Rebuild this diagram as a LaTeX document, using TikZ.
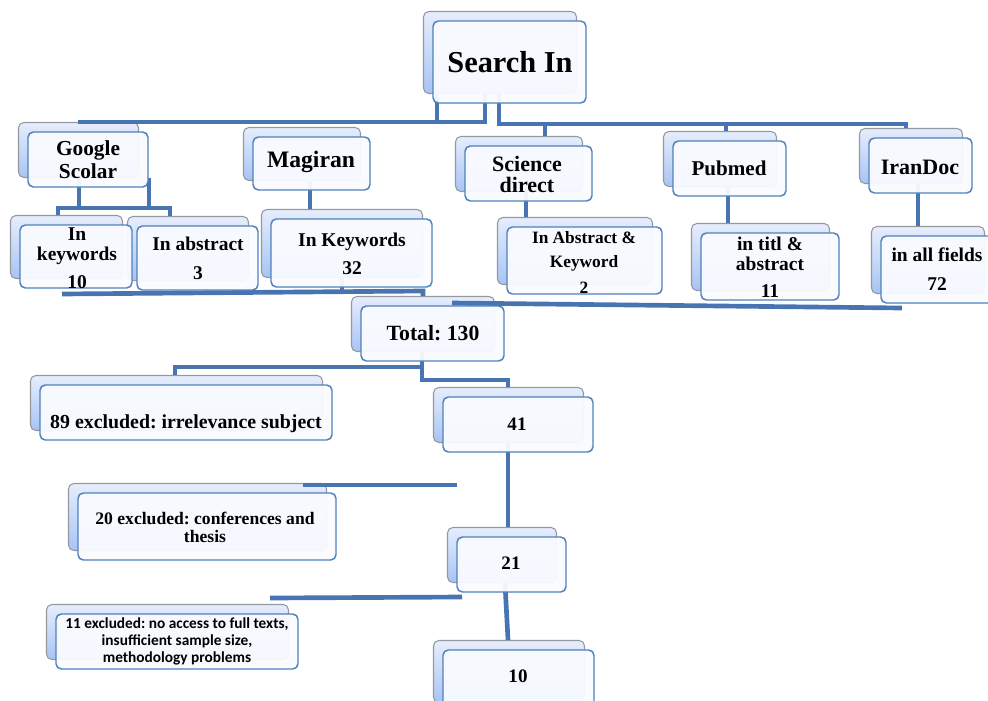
\documentclass[tikz,border=0pt]{standalone}
\usepackage{fontspec}
\setmainfont{Liberation Serif}
\newfontfamily\calib{Carlito}
\frenchspacing
\definecolor{linec}{RGB}{72,117,178}
\definecolor{frontc}{RGB}{79,129,189}
\definecolor{frontf}{RGB}{249,251,255}
\definecolor{backc}{RGB}{150,152,160}
\definecolor{backtop}{RGB}{230,237,252}
\definecolor{backbot}{RGB}{168,196,244}
\newcommand\fs[2]{\fontsize{#1pt}{#2pt}\selectfont\bfseries\frenchspacing}
\tikzset{
  conn/.style={draw=linec, line width=3.5pt},
  fbox/.style={rectangle, draw=frontc, line width=1.1pt, fill=frontf, fill opacity=0.95, rounded corners=4pt, inner sep=0pt},
  bbox/.style={rectangle, draw=backc, line width=0.8pt, top color=backtop, bottom color=backbot, rounded corners=4pt, inner sep=0pt},
  txt/.style={inner sep=0pt, align=center, text=black},
}
\newcommand\mkback[5]{\node[bbox, minimum width={(#4-#2)*0.75pt}, minimum height={(#5-#3)*0.75pt}] (#1) at ({(#2+#4)/2-9.5},{(#3+#5)/2-9.5}) {};}
\newcommand\mkfront[5]{\node[fbox, minimum width={(#4-#2)*0.75pt}, minimum height={(#5-#3)*0.75pt}] (#1) at ({(#2+#4)/2},{(#3+#5)/2}) {};}
\begin{document}
\begin{tikzpicture}[x=0.75pt, y=-0.75pt]
\useasboundingbox (0,0) rectangle (988,700);
% ---------- back boxes
\mkback{search-b}{433}{21}{586}{103}
\mkback{google-b}{28}{132}{148}{187}
\mkback{magiran-b}{253}{137}{370}{190}
\mkback{science-b}{465}{146}{592}{201}
\mkback{pubmed-b}{673}{141}{786}{196}
\mkback{irandoc-b}{869}{138}{972}{193}
\mkback{kw-b}{20}{225}{132}{288}
\mkback{abs-b}{137}{226}{258}{290}
\mkback{kw2-b}{271}{219}{432}{287}
\mkback{sd2-b}{507}{227}{662}{294}
\mkback{pm2-b}{701}{233}{839}{300}
\mkback{ir2-b}{881}{236}{994}{303}
\mkback{total-b}{361}{306}{504}{361}
\mkback{ex89-b}{40}{385}{332}{440}
\mkback{n41-b}{443}{397}{593}{452}
\mkback{ex20-b}{78}{493}{336}{560}
\mkback{n21-b}{457}{537}{566}{592}
\mkback{ex11-b}{56}{614}{298}{669}
\mkback{n10-b}{443}{650}{594}{712}
% ---------- connectors
\draw[conn] (search-b.south -| 485,0) -- (485,122) -- (78,122);
\draw[conn] (search-b.south -| 437,0) -- (437,122);
\draw[conn] (search-b.south -| 499,0) -- (499,124) -- (906,124) -- (irandoc-b.north -| 906,0);
\draw[conn] (545,124) -- (science-b.north -| 545,0);
\draw[conn] (726,124) -- (pubmed-b.north -| 726,0);
\draw[conn] (google-b.south -| 79,0) -- (79,208);
\draw[conn] (google-b.south -| 149,0) -- (149,208);
\draw[conn] (kw-b.north -| 58,0) -- (58,208) -- (170,208) -- (abs-b.north -| 170,0);
\draw[conn] (magiran-b.south -| 310,0) -- (kw2-b.north -| 310,0);
\draw[conn] (science-b.south -| 526,0) -- (sd2-b.north -| 526,0);
\draw[conn] (pubmed-b.south -| 728,0) -- (pm2-b.north -| 728,0);
\draw[conn] (irandoc-b.south -| 918,0) -- (ir2-b.north -| 918,0);
\draw[conn] (62,294) -- (423,291) -- (total-b.north -| 423,0);
\draw[conn] (kw2-b.south -| 342,0) -- (342,291);
\draw[conn] (452,303) -- (902,308);
\draw[conn] (ex89-b.north -| 175,0) -- (175,367) -- (422,367);
\draw[conn] (total-b.south -| 422,0) -- (422,380) -- (508,380) -- (n41-b.north -| 508,0);
\draw[conn] (n41-b.south -| 508,0) -- (n21-b.north -| 508,0);
\coordinate (e20a) at (303,485);
\coordinate (e20b) at (457,485);
\draw[conn] (e20a) -- (e20b);
\draw[conn] (n21-b.south -| 505,0) -- (n10-b.north -| 508,0);
\coordinate (e11a) at (270,598);
\coordinate (e11b) at (462,597);
\draw[conn] (e11a) -- (e11b);
% ---------- front boxes
\mkfront{search}{433}{21}{586}{103}
\mkfront{google}{28}{132}{148}{187}
\mkfront{magiran}{253}{137}{370}{190}
\mkfront{science}{465}{146}{592}{201}
\mkfront{pubmed}{673}{141}{786}{196}
\mkfront{irandoc}{869}{138}{972}{193}
\mkfront{kw}{20}{225}{132}{288}
\mkfront{abs}{137}{226}{258}{290}
\mkfront{kw2}{271}{219}{432}{287}
\mkfront{sd2}{507}{227}{662}{294}
\mkfront{pm2}{701}{233}{839}{300}
\mkfront{ir2}{881}{236}{994}{303}
\mkfront{total}{361}{306}{504}{361}
\mkfront{ex89}{40}{385}{332}{440}
\mkfront{n41}{443}{397}{593}{452}
\mkfront{ex20}{78}{493}{336}{560}
\mkfront{n21}{457}{537}{566}{592}
\mkfront{ex11}{56}{614}{298}{669}
\mkfront{n10}{443}{650}{594}{712}
% ---------- texts
\node[txt, font=\fs{22.8}{24}] (t-search) at (510,62) {Search In};
\node[txt, font=\fs{16}{17.25}] (t-google) at (88,160) {Google\\Scolar};
\node[txt, font=\fs{17.7}{19}] (t-magiran) at (311,162) {Magiran};
\node[txt, font=\fs{16.5}{15.75}] (t-science) at (527,174) {Science\\direct};
\node[txt, font=\fs{15.8}{17}] (t-pubmed) at (729,168) {Pubmed};
\node[txt, font=\fs{16.5}{17}] (t-irandoc) at (920,167) {IranDoc};
\node[txt, font=\fs{14.6}{15}] (t-kw) at (77,258) {In\\keywords\\[6pt]10};
\node[txt, font=\fs{14.6}{21.75}] (t-abs) at (198,258) {In abstract\\3};
\node[txt, font=\fs{14.6}{21}] (t-kw2) at (352,254) {In Keywords\\32};
\node[txt, font=\fs{13}{18}] (t-sd2) at (584,262) {In Abstract \&\\Keyword\\[1.5pt]2};
\node[txt, font=\fs{14.6}{15}] (t-pm2) at (770,267) {in titl \&\\abstract\\[5pt]11};
\node[txt, font=\fs{14.6}{21.75}] (t-ir2) at (937,269) {in all fields\\72};
\node[txt, font=\fs{16.3}{17}] (t-total) at (433,333) {Total: 130};
\node[txt, font=\fs{14.9}{16}] (t-ex89) at (186,424) {89 excluded: irrelevance subject};
\node[txt, font=\fs{14.3}{15}] (t-n41) at (517,424) {41};
\node[txt, font=\fs{13.2}{13.5}] (t-ex20) at (205,527) {20 excluded: conferences and\\thesis};
\node[txt, font=\fs{14.3}{15}] (t-n21) at (511,563) {21};
\node[txt, font={\calib\fs{11.5}{12.75}}] (t-ex11) at (177,641) {11 excluded: no access to full texts,\\insufficient sample size,\\methodology problems};
\node[txt, font=\fs{14.3}{15}] (t-n10) at (518,676) {10};
\end{tikzpicture}
\end{document}
